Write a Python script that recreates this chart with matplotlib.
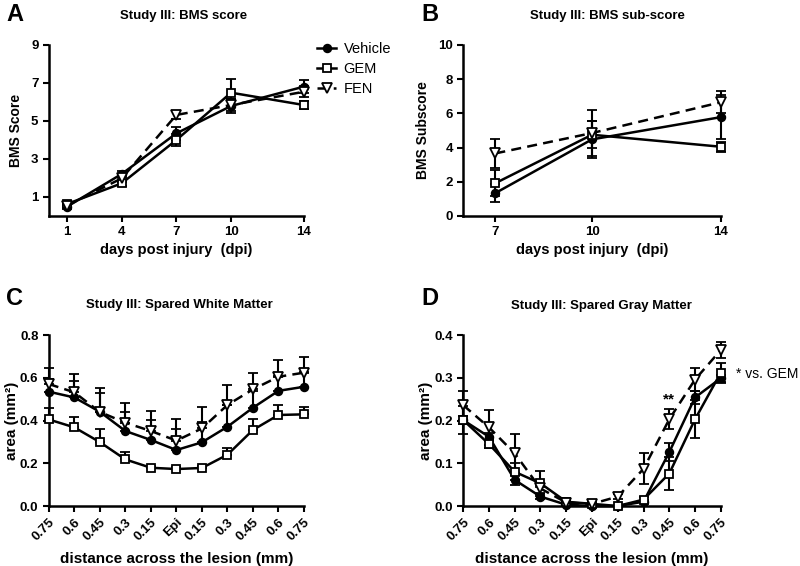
import numpy as np
import matplotlib
matplotlib.use("Agg")
import matplotlib.pyplot as plt

plt.rcParams['font.family'] = ['Liberation Sans', 'DejaVu Sans']

# Panel A: BMS score
a_days = [1, 4, 7, 10, 14]
a_veh = [0.49, 2.21, 4.35, 5.79, 6.81]
a_veh_err = [0.1, 0.15, 0.35, 0.39, 0.35]
a_gem = [0.63, 1.72, 4.0, 6.49, 5.84]
a_gem_err = [0.1, 0.15, 0.3, 0.7, 0.2]
a_fen = [0.55, 1.98, 5.32, 5.84, 6.54]
a_fen_err = [0.1, 0.2, 0.22, 0.3, 0.3]

# Panel B: BMS sub-score
b_days = [7, 10, 14]
b_veh = [1.34, 4.48, 5.78]
b_veh_err = [0.51, 1.07, 1.3]
b_gem = [1.92, 4.75, 4.05]
b_gem_err = [0.75, 0.8, 0.3]
b_fen = [3.66, 4.85, 6.65]
b_fen_err = [0.86, 1.33, 0.64]

# Panels C, D: distance across the lesion
dist_labels = ['0.75', '0.6', '0.45', '0.3', '0.15', 'Epi', '0.15', '0.3', '0.45', '0.6', '0.75']

c_veh = [0.535, 0.508, 0.441, 0.351, 0.309, 0.262, 0.298, 0.371, 0.46, 0.539, 0.558]
c_veh_err = [0.058, 0.077, 0.09, 0.09, 0.093, 0.1, 0.096, 0.1, 0.08, 0.07, 0.07]
c_gem = [0.405, 0.368, 0.299, 0.218, 0.179, 0.173, 0.178, 0.24, 0.356, 0.426, 0.429]
c_gem_err = [0.052, 0.05, 0.061, 0.036, 0.01, 0.01, 0.01, 0.033, 0.049, 0.047, 0.036]
c_fen = [0.571, 0.532, 0.44, 0.39, 0.351, 0.306, 0.363, 0.473, 0.546, 0.605, 0.624]
c_fen_err = [0.073, 0.086, 0.11, 0.092, 0.095, 0.099, 0.102, 0.093, 0.078, 0.078, 0.075]

d_veh = [0.201, 0.162, 0.061, 0.022, 0.003, 0.0, 0.0, 0.01, 0.126, 0.254, 0.299]
d_veh_err = [0.033, 0.01, 0.012, 0.006, 0.002, 0.001, 0.001, 0.004, 0.021, 0.015, 0.008]
d_gem = [0.201, 0.145, 0.08, 0.053, 0.01, 0.005, 0.0, 0.015, 0.076, 0.203, 0.312]
d_gem_err = [0.01, 0.01, 0.02, 0.03, 0.003, 0.002, 0.001, 0.005, 0.039, 0.045, 0.023]
d_fen = [0.236, 0.184, 0.123, 0.041, 0.008, 0.005, 0.022, 0.087, 0.203, 0.296, 0.365]
d_fen_err = [0.034, 0.041, 0.045, 0.01, 0.003, 0.002, 0.006, 0.036, 0.023, 0.026, 0.019]

series = ['Vehicle', 'GEM', 'FEN']
styles = {
    'Vehicle': dict(marker='o', mfc='black', ls='-', ms=5.5),
    'GEM': dict(marker='s', mfc='white', ls='-', ms=6),
    'FEN': dict(marker='v', mfc='white', ls=(0, (4, 2.5)), ms=6.5),
}


def draw(ax, x, ys, errs, up_only=False):
    for name, y, e in zip(series, ys, errs):
        st = styles[name]
        e = np.array(e)
        yerr = [np.zeros_like(e), e] if up_only else e
        ax.errorbar(x, y, yerr=yerr, color='black', lw=1.8, ls=st['ls'],
                    marker=st['marker'], mfc=st['mfc'], mec='black', mew=1.3,
                    ms=st['ms'], capsize=3.5, elinewidth=1.5, capthick=1.5,
                    clip_on=False, label=name, zorder=3)


def style(ax):
    for s in ['top', 'right']:
        ax.spines[s].set_visible(False)
    for s in ['left', 'bottom']:
        ax.spines[s].set_linewidth(1.8)
    ax.tick_params(width=1.5, length=4, labelsize=9.5)
    for lab in ax.get_xticklabels() + ax.get_yticklabels():
        lab.set_fontweight('bold')


fig = plt.figure(figsize=(8, 5.66), dpi=100)

# A
axA = fig.add_axes([0.061, 0.6184, 0.319, 0.3021])
draw(axA, a_days, [a_veh, a_gem, a_fen], [a_veh_err, a_gem_err, a_fen_err])
axA.set_xlim(0, 14)
axA.set_ylim(0, 9)
axA.set_xticks(a_days)
axA.set_yticks([1, 3, 5, 7, 9])
axA.set_xlabel('days post injury  (dpi)', fontsize=10.5, fontweight='bold', labelpad=3)
axA.set_ylabel('BMS Score', fontsize=10, fontweight='bold', labelpad=6)
style(axA)
handles, labels = axA.get_legend_handles_labels()
handles = [h[0] for h in handles]
axA.legend(handles, labels, loc='upper left', bbox_to_anchor=(1.03, 1.05),
           frameon=False, fontsize=10.5, handlelength=1.3, handletextpad=0.5,
           labelspacing=0.4, borderaxespad=0)

# B
axB = fig.add_axes([0.579, 0.6184, 0.322, 0.3021])
draw(axB, b_days, [b_veh, b_gem, b_fen], [b_veh_err, b_gem_err, b_fen_err])
axB.set_xlim(6, 14)
axB.set_ylim(0, 10)
axB.set_xticks(b_days)
axB.set_yticks([0, 2, 4, 6, 8, 10])
axB.set_xlabel('days post injury  (dpi)', fontsize=10.5, fontweight='bold', labelpad=3)
axB.set_ylabel('BMS Subscore', fontsize=10, fontweight='bold', labelpad=6)
style(axB)

xpos = np.arange(len(dist_labels))

# C
axC = fig.add_axes([0.061, 0.106, 0.319, 0.302])
draw(axC, xpos, [c_veh, c_gem, c_fen], [c_veh_err, c_gem_err, c_fen_err], up_only=True)
axC.set_xlim(0, 10)
axC.set_ylim(0, 0.8)
axC.set_xticks(xpos)
axC.set_xticklabels(dist_labels, rotation=45, ha='right', rotation_mode='anchor')
axC.set_yticks([0.0, 0.2, 0.4, 0.6, 0.8])
axC.set_yticklabels(['0.0', '0.2', '0.4', '0.6', '0.8'])
axC.set_xlabel('distance across the lesion (mm)', fontsize=11, fontweight='bold', labelpad=6)
style(axC)

# D
axD = fig.add_axes([0.579, 0.106, 0.322, 0.302])
draw(axD, xpos, [d_veh, d_gem, d_fen], [d_veh_err, d_gem_err, d_fen_err])
axD.set_xlim(0, 10)
axD.set_ylim(0, 0.4)
axD.set_xticks(xpos)
axD.set_xticklabels(dist_labels, rotation=45, ha='right', rotation_mode='anchor')
axD.set_yticks([0.0, 0.1, 0.2, 0.3, 0.4])
axD.set_yticklabels(['0.0', '0.1', '0.2', '0.3', '0.4'])
axD.set_xlabel('distance across the lesion (mm)', fontsize=11, fontweight='bold', labelpad=6)
style(axD)
axD.text(8, 0.232, '**', ha='center', va='bottom', fontsize=11, fontweight='bold')
fig.text(0.92, 0.339, '* vs. GEM', fontsize=10, va='center')

# y labels for C and D
for lx in [0.015, 0.532]:
    fig.text(lx, 0.257, 'area (mm²)', rotation=90, ha='center', va='center',
             fontsize=11, fontweight='bold')

# titles and panel letters
fig.text(0.229, 0.972, 'Study III: BMS score', ha='center', va='center', fontsize=9.5, fontweight='bold')
fig.text(0.759, 0.972, 'Study III: BMS sub-score', ha='center', va='center', fontsize=9.5, fontweight='bold')
fig.text(0.224, 0.461, 'Study III: Spared White Matter', ha='center', va='center', fontsize=9.5, fontweight='bold')
fig.text(0.752, 0.459, 'Study III: Spared Gray Matter', ha='center', va='center', fontsize=9.5, fontweight='bold')
for lx, ly, letter in [(0.008, 0.975, 'A'), (0.527, 0.975, 'B'),
                       (0.008, 0.473, 'C'), (0.527, 0.473, 'D')]:
    fig.text(lx, ly, letter, ha='left', va='center', fontsize=17, fontweight='bold')

fig.savefig('out.png', dpi=100)
